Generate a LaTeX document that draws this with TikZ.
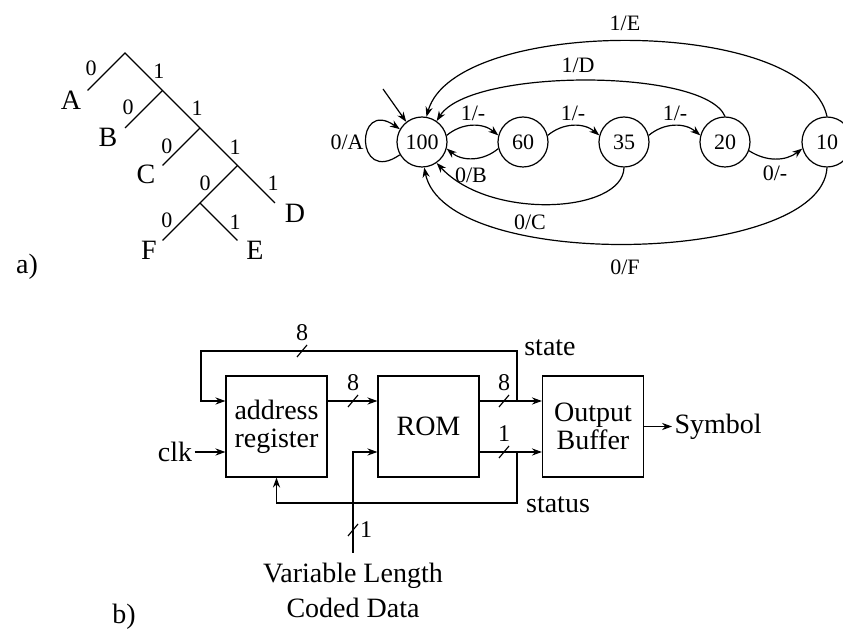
\documentclass[tikz,border=0pt]{standalone}
\usepackage{fontspec}
\setmainfont{Liberation Serif}
\usetikzlibrary{arrows.meta}

\tikzset{
  bigtxt/.style={font=\fontsize{14}{14.5}\selectfont},
  smalltxt/.style={font=\fontsize{11}{12}\selectfont, inner sep=1pt},
  buslbl/.style={font=\fontsize{12}{13}\selectfont, inner sep=1pt},
  fsmstate/.style={circle, draw, minimum size=25pt, inner sep=0pt, font=\fontsize{11}{12}\selectfont},
  block/.style={draw, minimum width=50.5pt, minimum height=50.5pt, align=center, inner sep=1pt, font=\fontsize{14}{14}\selectfont},
}
\newcommand{\busmark}[1]{\draw (#1) ++(-5,-6) -- ++(10,12);}

\begin{document}
\begin{tikzpicture}[x=0.5pt, y=0.5pt, line width=0.6pt, >={Stealth[length=5pt,width=3.6pt]}]

\useasboundingbox (0,0) rectangle (843,633);

% ============================================================
% PART (a): code tree, left
% root at (125,580), one level = 37.5 units, 45 degrees
% ============================================================

\coordinate (root) at (125,580);
\coordinate (t1) at (162.5,542.5);
\coordinate (t2) at (200,505);
\coordinate (t3) at (237.5,467.5);
\coordinate (t4) at (200,430);
\coordinate (lA) at (87.5,542.5);
\coordinate (lB) at (125,505);
\coordinate (lC) at (162.5,467.5);
\coordinate (lD) at (275,430);
\coordinate (lF) at (162.5,392.5);
\coordinate (lE) at (237.5,392.5);

\draw (lA) -- (root) -- (t1) -- (t2) -- (t3) -- (lD);
\draw (t1) -- (lB);
\draw (t2) -- (lC);
\draw (t3) -- (t4) -- (lF);
\draw (t4) -- (lE);

% leaf letters
\node[bigtxt] (nA) at (71,533) {A};
\node[bigtxt] (nB) at (108,496) {B};
\node[bigtxt] (nC) at (146,459) {C};
\node[bigtxt] (nD) at (295,420) {D};
\node[bigtxt] (nF) at (149,383) {F};
\node[bigtxt] (nE) at (255,383) {E};

% branch bits
\foreach \x/\y/\b in {91/565/0, 159/562/1, 128/526/0, 197/525/1, 167/487/0,
                      235/486/1, 205/450/0, 273/450/1, 167/413/0, 235/411/1}{%
  \node[smalltxt] at (\x,\y) {\b};
}

\node[bigtxt] (pa) at (27,366) {a)};

% ============================================================
% PART (a): state machine, right
% states on y=491, radius 25 units
% ============================================================

\node[fsmstate] (s100) at (422,491) {100};
\node[fsmstate] (s60) at (523,491) {60};
\node[fsmstate] (s35) at (624,491) {35};
\node[fsmstate] (s20) at (725,491) {20};
\node[fsmstate] (s10) at (827,491) {10};

% start arrow
\coordinate (init) at (383,544);
\draw[->] (init) -- (s100.128);

% self loop 0/A
\draw[->] (s100.210) to[out=215, in=145, looseness=5.5] (s100.150);
\node[smalltxt] (lbA) at (347,491) {0/A};

% forward chain on 1
\draw[->] (s100.15) to[bend left=40] (s60.165);
\draw[->] (s60.15) to[bend left=40] (s35.165);
\draw[->] (s35.15) to[bend left=40] (s20.165);
\node[smalltxt] at (473,520) {1/-};
\node[smalltxt] at (573,520) {1/-};
\node[smalltxt] at (675,520) {1/-};

% 0 from 60 and 20
\draw[->] (s60.195) to[bend left=40] (s100.345);
\node[smalltxt] at (471,458) {0/B};
\draw[->] (s20.340) to[bend right=35] (s10.195);
\node[smalltxt] at (775,460) {0/-};

% long returns below
\draw[->] (s35.270) .. controls (623,420) and (490,412) .. (s100.305);
\node[smalltxt] at (530,411) {0/C};
\draw[->] (s10.270) .. controls (822,368) and (445,360) .. (s100.275);
\node[smalltxt] at (625,366) {0/F};

% long returns above
\draw[->] (s20.90) .. controls (705,565) and (470,565) .. (s100.55);
\node[smalltxt] at (578,568) {1/D};
\draw[->] (s10.90) .. controls (805,617) and (455,617) .. (s100.80);
\node[smalltxt] at (625,610) {1/E};

% ============================================================
% PART (b): decoder hardware
% blocks centred on y=206.5, 101 units square
% ============================================================

\node[block] (addr) at (276.5,206.5) {address\\register};
\node[block] (rom) at (428.5,206.5) {ROM};
\node[block] (buf) at (593,206.5) {Output\\Buffer};

\coordinate (rtop) at (517,232);
\coordinate (rbot) at (517,181);
\coordinate (fbr) at (517,282);
\coordinate (fbl) at (201,282);
\coordinate (sts) at (517,130);
\coordinate (vin) at (353,80);

% address -> ROM -> buffer
\draw[->] (addr.east |- rtop) -- (rom.west |- rtop);
\draw[->] (rom.east |- rtop) -- (buf.west |- rtop);
\draw[->] (rom.east |- rbot) -- (buf.west |- rbot);

% state feedback
\draw[->] (rtop) -- (fbr) -- (fbl) -- (fbl |- rtop) -- (addr.west |- rtop);
\node[bigtxt] (lstate) at (550,285) {state};

% status feedback
\draw[->] (rbot) -- (sts) -| (addr.south);
\node[bigtxt] (lstatus) at (558,128) {status};

% clock
\node[bigtxt, inner sep=1pt] (clk) at (175,181) {clk};
\draw[->] (clk) -- (addr.west |- clk);

% coded input
\draw[->] (vin) |- (rom.west |- rbot);
\node[font=\fontsize{14}{17.5}\selectfont, align=center] (vld) at (353,42.5) {Variable Length\\Coded Data};

% output
\node[bigtxt, anchor=west, inner sep=1pt] (sym) at (672,206.5) {Symbol};
\draw[->] (buf.east) -- (sym.west);

% bus widths
\busmark{302,282}
\busmark{353,232}
\busmark{504,232}
\busmark{504,181}
\busmark{353,103}
\node[buslbl] at (302,300) {8};
\node[buslbl] at (353,250) {8};
\node[buslbl] at (504,250) {8};
\node[buslbl] at (504,199) {1};
\node[buslbl] at (366,103) {1};

\node[bigtxt] (pb) at (124,16) {b)};

\end{tikzpicture}
\end{document}
